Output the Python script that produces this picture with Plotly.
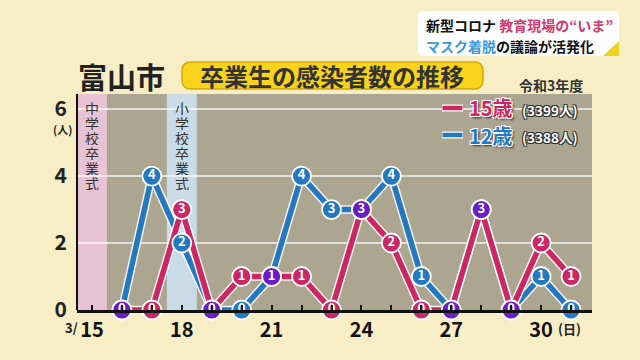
import plotly.graph_objects as go

# ---- data ----
days = list(range(16, 32))
age15 = [0, 0, 3, 0, 1, 1, 1, 0, 3, 2, 0, 0, 3, 0, 2, 1]   # 15歳 (3399人)
age12 = [0, 4, 2, 0, 0, 1, 4, 3, 3, 4, 1, 0, 3, 0, 1, 0]   # 12歳 (3388人)
xtick_vals = [15, 18, 21, 24, 27, 30]
xtick_text = ["15", "18", "21", "24", "27", "30"]
ytick_vals = [0, 2, 4, 6]
ytick_text = ["0", "2", "4", "6"]
band_days = [15, 18]
band_labels = ["中学校卒業式", "小学校卒業式"]

RED = "#cc2763"
BLUE = "#2478c0"
PURPLE = "#6b1cc6"
FONT = "Noto Sans CJK JP"

W, H = 640, 360
L, R, T, B = 77, 592, 94, 310


def px(x):
    return (x - L) / (R - L)


def py(y):
    return (B - y) / (B - T)


def rounded(x0, y0, x1, y1, r):
    X0, X1 = px(x0), px(x1)
    Y0, Y1 = py(y0), py(y1)
    rx = r / (R - L)
    ry = r / (B - T)
    return (f"M {X0+rx},{Y0} L {X1-rx},{Y0} Q {X1},{Y0} {X1},{Y0-ry} "
            f"L {X1},{Y1+ry} Q {X1},{Y1} {X1-rx},{Y1} L {X0+rx},{Y1} "
            f"Q {X0},{Y1} {X0},{Y1+ry} L {X0},{Y0-ry} Q {X0},{Y0} {X0+rx},{Y0} Z")


def ann(x, y, text, size, color, xanchor="center", **kw):
    return dict(x=px(x), y=py(y), xref="paper", yref="paper", text=text, showarrow=False,
                xanchor=xanchor, yanchor="middle",
                font=dict(size=size, color=color, family=FONT, **kw))


fig = go.Figure()

# line outlines + lines
for vals, col in [(age12, BLUE), (age15, RED)]:
    fig.add_trace(go.Scatter(x=days, y=vals, mode="lines",
                             line=dict(color="rgba(255,255,255,0.85)", width=8.5),
                             hoverinfo="skip", showlegend=False, cliponaxis=False))
    fig.add_trace(go.Scatter(x=days, y=vals, mode="lines",
                             line=dict(color=col, width=5.5),
                             hoverinfo="skip", showlegend=False, cliponaxis=False))

# markers with numbers
for vals, other, col in [(age12, age15, BLUE), (age15, age12, RED)]:
    colors = [PURPLE if v == o else col for v, o in zip(vals, other)]
    fig.add_trace(go.Scatter(x=days, y=vals, mode="markers+text",
                             text=[str(v) for v in vals], textposition="middle center",
                             textfont=dict(color="white", size=13, family=FONT, weight="bold"),
                             marker=dict(size=19, color=colors,
                                         line=dict(color="white", width=1.8)),
                             showlegend=False, cliponaxis=False))

shapes = []
annotations = []

# bands
band_cols = ["#e7c3d3", "#c9dbe6"]
for d, lab, c in zip(band_days, band_labels, band_cols):
    shapes.append(dict(type="rect", xref="x", yref="paper", x0=d - 0.5, x1=d + 0.5,
                       y0=0, y1=1, fillcolor=c, line=dict(width=0), layer="below"))
    for i, ch in enumerate(lab):
        annotations.append(dict(x=d, xref="x", y=py(108 + i * 15), yref="paper",
                                text=ch, showarrow=False, xanchor="center", yanchor="middle",
                                height=14, borderpad=0,
                                font=dict(size=14, color="#333333", family=FONT)))

# titles
annotations.append(ann(121, 76, "<b>富山市</b>", 29, "#222222"))
shapes.append(dict(type="path", xref="paper", yref="paper", path=rounded(182, 62, 483, 89, 9),
                   fillcolor="#f7d31c", line=dict(color="#d5a900", width=1.5)))
annotations.append(ann(332, 75.5, "<b>卒業生の感染者数の推移</b>", 24, "#333333"))
annotations.append(ann(551, 85, "<b>令和3年度</b>", 14, "#333333"))

# top-right caption box
shapes.append(dict(type="path", xref="paper", yref="paper", path=rounded(418, 11, 619, 56, 5),
                   fillcolor="white", line=dict(width=0)))
shapes.append(dict(type="path", xref="paper", yref="paper",
                   path=f"M {px(619)},{py(41)} L {px(619)},{py(56)} L {px(603)},{py(56)} Z",
                   fillcolor="#f0d020", line=dict(width=0)))
annotations.append(ann(424, 25, "<b>新型コロナ <span style='color:#d33a6e'>教育現場の“いま”</span></b>",
                       14, "#111111", xanchor="left"))
annotations.append(ann(424, 46, "<b><span style='color:#3d9ad8'>マスク着脱</span>の議論が活発化</b>",
                       14, "#111111", xanchor="left"))

# legend
for yy, col, lab, cnt in [(108, RED, "15歳", "(3399人)"), (135, BLUE, "12歳", "(3388人)")]:
    shapes.append(dict(type="line", xref="paper", yref="paper", x0=px(442), x1=px(463),
                       y0=py(yy), y1=py(yy), line=dict(color="white", width=7)))
    shapes.append(dict(type="line", xref="paper", yref="paper", x0=px(442.5), x1=px(462.5),
                       y0=py(yy), y1=py(yy), line=dict(color=col, width=4.5)))
    annotations.append(ann(467, yy, f"<b>{lab}</b>", 20, col, xanchor="left",
                           shadow="1px 1px 0px white, -1px -1px 0px white, 1px -1px 0px white, -1px 1px 0px white, 2px 2px 2px #333"))
    annotations.append(ann(520, yy + 2, f"<b>{cnt}</b>", 13.5, "white", xanchor="left",
                           shadow="1px 1px 0px #333, -1px -1px 0px #333, 1px -1px 0px #333, -1px 1px 0px #333"))

# axis extras
annotations.append(ann(62, 129, "<b>(人)</b>", 11, "#222222"))
annotations.append(ann(71, 327, "<b>3/</b>", 13, "#222222"))
annotations.append(ann(556, 328, "<b>(日)</b>", 13, "#222222", xanchor="left"))
shapes.append(dict(type="line", xref="paper", yref="paper", x0=0, x1=0, y0=0, y1=1,
                   line=dict(color="#111111", width=2)))

fig.update_layout(
    width=W, height=H,
    margin=dict(l=L, r=W - R, t=T, b=H - B),
    paper_bgcolor="#f8eec6",
    plot_bgcolor="#aca590",
    font=dict(family=FONT),
    shapes=shapes, annotations=annotations,
    xaxis=dict(range=[14.5, 31.7], tickvals=xtick_vals, ticktext=xtick_text,
               showgrid=False, zeroline=False, showline=True, linecolor="#111111", linewidth=2.5,
               ticks="inside", ticklen=5, tickcolor="#111111", tickwidth=1.5,
               minor=dict(tickvals=days, ticks="inside", ticklen=5, tickcolor="#111111", tickwidth=1.5),
               tickfont=dict(size=20, color="#111111", family=FONT, weight="bold")),
    yaxis=dict(range=[0, 6.45], tickvals=ytick_vals, ticktext=ytick_text,
               showgrid=True, gridcolor="rgba(255,255,255,0.65)", gridwidth=1.5,
               zeroline=False, showline=False, ticks="", ticklabelstandoff=9,
               tickfont=dict(size=21, color="#222222", family=FONT, weight="bold")),
)

fig.write_html("out.html", config={"displayModeBar": False},
               post_script="document.body.style.margin='0';")
